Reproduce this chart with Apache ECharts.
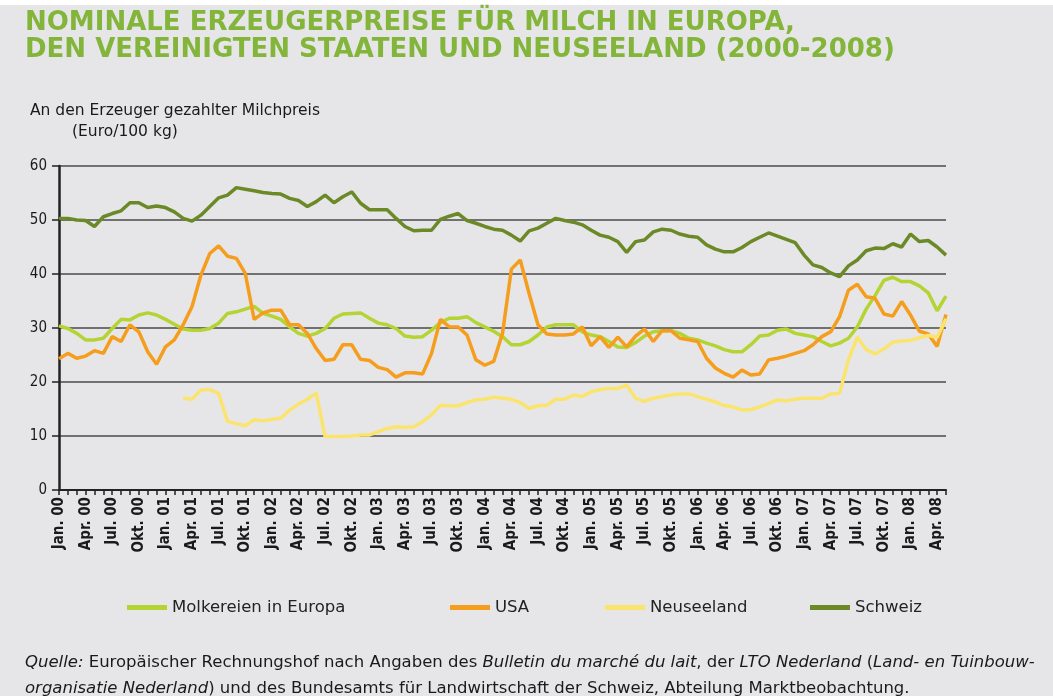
<!DOCTYPE html>
<html>
<head>
<meta charset="utf-8">
<title>Milchpreise</title>
<script src="https://cdn.jsdelivr.net/npm/echarts@6/dist/echarts.min.js"></script>
<style>
  html, body { margin: 0; padding: 0; background: #ffffff; }
  #chart { width: 1053px; height: 696px; background: #e6e6e8; }
</style>
</head>
<body>
<div id="chart"></div>
<script>
// Monatsreihe Jan. 2000 - Mai 2008
var monthNames = ["Jan.", "Feb.", "Mär.", "Apr.", "Mai", "Jun.", "Jul.", "Aug.", "Sep.", "Okt.", "Nov.", "Dez."];
var years = ["00", "01", "02", "03", "04", "05", "06", "07", "08"];
var months = [];
for (var y = 0; y < years.length; y++) {
  for (var m = 0; m < 12; m++) {
    if (y === 8 && m > 4) break;
    months.push(monthNames[m] + " " + years[y]);
  }
}

var yTicks = [0, 10, 20, 30, 40, 50, 60];

var europa = [
  30.4, 29.9, 29.0, 27.8, 27.8, 28.1, 29.9, 31.6, 31.5, 32.4,
  32.8, 32.4, 31.6, 30.7, 29.8, 29.6, 29.6, 29.9, 30.9, 32.7,
  33.0, 33.5, 34.0, 32.7, 32.2, 31.6, 30.2, 29.0, 28.5, 29.0,
  29.9, 31.8, 32.6, 32.7, 32.8, 31.8, 30.9, 30.6, 29.9, 28.5,
  28.3, 28.4, 29.6, 31.0, 31.8, 31.8, 32.1, 31.0, 30.2, 29.4,
  28.4, 26.9, 26.9, 27.5, 28.7, 30.2, 30.6, 30.6, 30.6, 29.3,
  28.7, 28.4, 27.5, 26.5, 26.4, 27.3, 28.5, 29.3, 29.5, 29.5,
  29.0, 28.1, 27.8, 27.2, 26.7, 26.0, 25.6, 25.6, 26.9, 28.5,
  28.7, 29.6, 29.8, 29.0, 28.7, 28.4, 27.5, 26.7, 27.2, 28.1,
  30.2, 33.5, 36.0, 38.8, 39.4, 38.6, 38.6, 37.8, 36.5, 33.2,
  35.9
];

var usa = [
  24.3, 25.3, 24.4, 24.8, 25.8, 25.3, 28.4, 27.5, 30.6, 29.3,
  25.6, 23.3, 26.5, 27.8, 30.6, 34.0, 39.8, 43.8, 45.2, 43.3,
  42.9, 40.1, 31.6, 32.8, 33.3, 33.3, 30.6, 30.6, 29.0, 26.2,
  24.0, 24.2, 26.9, 26.9, 24.2, 24.0, 22.7, 22.3, 20.9, 21.7,
  21.7, 21.5, 25.3, 31.6, 30.2, 30.2, 28.7, 24.1, 23.1, 23.8,
  29.0, 40.9, 42.6, 36.4, 30.6, 28.9, 28.7, 28.7, 28.9, 30.2,
  26.7, 28.4, 26.4, 28.3, 26.5, 28.5, 29.8, 27.5, 29.5, 29.5,
  28.1, 27.8, 27.5, 24.4, 22.6, 21.6, 20.9, 22.2, 21.3, 21.5,
  24.1, 24.4, 24.8, 25.3, 25.8, 26.9, 28.4, 29.3, 32.1, 37.0,
  38.1, 35.8, 35.5, 32.6, 32.2, 34.9, 32.4, 29.4, 28.9, 26.6,
  32.5
];

var neuseeland = [
  null, null, null, null, null, null, null, null, null, null,
  null, null, null, null, 17.0, 16.8, 18.5, 18.6, 17.9, 12.7,
  12.3, 11.9, 13.0, 12.8, 13.1, 13.3, 14.8, 15.9, 16.8, 18.0,
  9.9, 9.9, 9.9, 10.0, 10.2, 10.2, 10.8, 11.4, 11.7, 11.6,
  11.7, 12.7, 13.9, 15.7, 15.6, 15.6, 16.2, 16.7, 16.8, 17.2,
  17.0, 16.8, 16.2, 15.1, 15.6, 15.7, 16.8, 16.8, 17.6, 17.3,
  18.2, 18.6, 18.8, 18.8, 19.4, 17.0, 16.4, 17.0, 17.3, 17.6,
  17.8, 17.8, 17.3, 16.8, 16.3, 15.6, 15.4, 14.8, 14.9, 15.4,
  16.0, 16.7, 16.5, 16.8, 17.0, 17.0, 17.0, 17.8, 17.9, 24.1,
  28.3, 26.0, 25.2, 26.1, 27.4, 27.6, 27.7, 28.2, 28.6, 28.3,
  31.7
];

var schweiz = [
  50.3, 50.3, 50.0, 49.9, 48.8, 50.6, 51.2, 51.7, 53.2, 53.2,
  52.3, 52.6, 52.3, 51.5, 50.3, 49.8, 50.9, 52.5, 54.1, 54.6,
  56.0, 55.7, 55.4, 55.1, 54.9, 54.8, 54.0, 53.6, 52.5, 53.4,
  54.6, 53.2, 54.3, 55.2, 53.1, 51.9, 51.9, 51.9, 50.3, 48.8,
  48.0, 48.1, 48.1, 50.1, 50.7, 51.2, 49.9, 49.4, 48.8, 48.3,
  48.1, 47.2, 46.1, 48.0, 48.5, 49.4, 50.3, 49.9, 49.6, 49.1,
  48.1, 47.2, 46.8, 46.0, 44.0, 46.0, 46.3, 47.8, 48.3, 48.1,
  47.4, 47.0, 46.8, 45.4, 44.6, 44.1, 44.1, 44.9, 46.0, 46.8,
  47.6, 47.0, 46.4, 45.8, 43.5, 41.7, 41.2, 40.2, 39.5, 41.5,
  42.6, 44.3, 44.8, 44.7, 45.6, 45.0, 47.4, 46.0, 46.2, 45.0,
  43.5
];

var seriesNames = ["Molkereien in Europa", "USA", "Neuseeland", "Schweiz"];
var seriesColors = ["#b4d434", "#f59d1c", "#fbe46e", "#6b8a27"];
var seriesData = [europa, usa, neuseeland, schweiz];
var legendLeft = [122, 445, 600, 805];

var condensed = "'DejaVu Sans Condensed', 'Liberation Sans Narrow', 'DejaVu Sans', sans-serif";
var wide = "'DejaVu Sans', 'Open Sans', sans-serif";

var chart = echarts.init(document.getElementById("chart"));

var series = [];
var legends = [];
for (var i = 0; i < seriesNames.length; i++) {
  series.push({
    name: seriesNames[i],
    type: "line",
    data: seriesData[i],
    showSymbol: false,
    connectNulls: false,
    lineStyle: { width: 3.5, color: seriesColors[i] },
    itemStyle: { color: seriesColors[i] }
  });
  legends.push({
    data: [seriesNames[i]],
    left: legendLeft[i],
    top: 594,
    icon: "rect",
    itemWidth: 40,
    itemHeight: 5,
    itemGap: 4,
    textStyle: { fontSize: 16.5, color: "#222", fontFamily: wide }
  });
}

var option = {
  animation: false,
  backgroundColor: "#e6e6e8",
  title: [
    {
      text: "NOMINALE ERZEUGERPREISE FÜR MILCH IN EUROPA,\nDEN VEREINIGTEN STAATEN UND NEUSEELAND (2000-2008)",
      left: 20,
      top: 5,
      textStyle: {
        color: "#82b53a",
        fontSize: 26,
        fontWeight: "bold",
        lineHeight: 27,
        fontFamily: wide
      }
    },
    {
      text: "{i|Quelle:} Europäischer Rechnungshof nach Angaben des {i|Bulletin du marché du lait}, der {i|LTO Nederland} ({i|Land- en Tuinbouw-}\n{i|organisatie Nederland}) und des Bundesamts für Landwirtschaft der Schweiz, Abteilung Marktbeobachtung.",
      left: 20,
      top: 645,
      textStyle: {
        color: "#1a1a1a",
        fontSize: 16.5,
        fontWeight: "normal",
        lineHeight: 26,
        fontFamily: wide,
        rich: {
          i: { fontStyle: "italic", fontSize: 16.5, lineHeight: 26, color: "#1a1a1a", fontFamily: wide }
        }
      }
    }
  ],
  legend: legends,
  graphic: [
    { type: "rect", left: 0, top: 0, shape: { width: 1053, height: 5 }, style: { fill: "#ffffff" } },
    {
      type: "text", left: 30, top: 103,
      style: { text: "An den Erzeuger gezahlter Milchpreis", fontSize: 15.5, fill: "#1a1a1a", fontFamily: wide }
    },
    {
      type: "text", left: 72, top: 124,
      style: { text: "(Euro/100 kg)", fontSize: 15.5, fill: "#1a1a1a", fontFamily: wide }
    }
  ],
  grid: { left: 59, right: 107, top: 166, bottom: 206, containLabel: false },
  xAxis: {
    type: "category",
    data: months,
    boundaryGap: false,
    axisLine: { lineStyle: { color: "#222", width: 2 } },
    axisTick: { interval: 0, length: 5, lineStyle: { color: "#222", width: 1.5 } },
    axisLabel: {
      interval: 2,
      rotate: 90,
      margin: 7,
      fontSize: 15,
      fontWeight: "bold",
      color: "#1a1a1a",
      fontFamily: condensed
    },
    splitLine: { show: false }
  },
  yAxis: {
    type: "value",
    min: yTicks[0],
    max: yTicks[yTicks.length - 1],
    interval: 10,
    axisLine: { show: true, lineStyle: { color: "#222", width: 2.5 } },
    axisTick: { show: true, length: 7, lineStyle: { color: "#222", width: 1.5 } },
    axisLabel: { fontSize: 15, color: "#1a1a1a", margin: 12, fontFamily: condensed },
    splitLine: { show: true, lineStyle: { color: "#4a4a4a", width: 1.5 } }
  },
  series: series
};

chart.setOption(option);
</script>
</body>
</html>
